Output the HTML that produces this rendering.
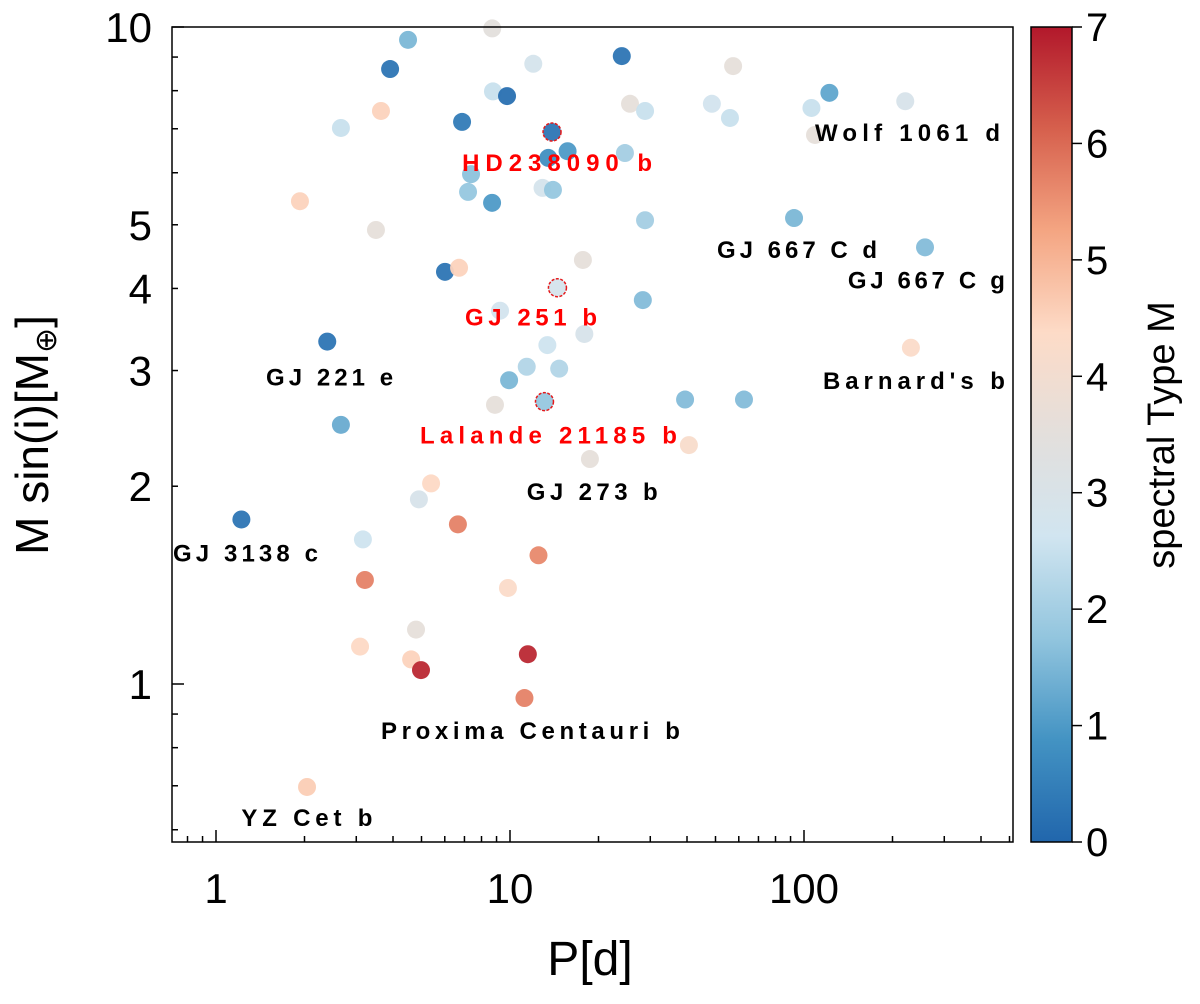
<!DOCTYPE html>
<html><head><meta charset="utf-8"><style>
body{margin:0;background:#fff}
svg text{font-family:"Liberation Sans","DejaVu Sans",sans-serif}
</style></head><body>
<svg id="chart" width="1200" height="999" viewBox="0 0 1200 999" xmlns="http://www.w3.org/2000/svg">
<defs><linearGradient id="cbgrad" x1="0" y1="1" x2="0" y2="0"></linearGradient></defs>
<g id="marks"></g>
<g id="axes"></g>
</svg>
<script>
const periods=[4.50,8.7,3.91,12.0,24.0,57.4,8.75,9.77,25.6,28.8,48.6,56.0,106,122,221,109,2.66,3.64,6.87,13.9,15.7,13.5,24.6,7.37,7.20,12.9,14.0,8.69,1.93,3.50,28.8,92.5,258,17.7,6.01,6.71,14.5,9.25,28.3,2.39,17.9,13.4,11.4,14.7,9.93,231,8.89,13.1,39.4,62.5,2.66,40.6,18.7,5.39,4.90,1.22,6.65,3.16,12.5,3.21,9.84,4.79,3.09,4.61,4.98,11.5,11.2,2.04];
const masses=[9.56,9.95,8.63,8.79,9.03,8.72,7.98,7.85,7.64,7.45,7.64,7.27,7.53,7.94,7.71,6.85,7.02,7.45,7.17,6.92,6.47,6.32,6.43,5.97,5.61,5.69,5.65,5.40,5.43,4.91,5.08,5.12,4.62,4.42,4.24,4.30,4.01,3.70,3.84,3.32,3.41,3.28,3.04,3.02,2.90,3.25,2.66,2.69,2.71,2.71,2.48,2.31,2.20,2.02,1.91,1.78,1.75,1.66,1.57,1.44,1.40,1.21,1.14,1.09,1.05,1.11,0.952,0.697];
const spTypes=[1.5,3.5,0.3,2.8,0.3,3.6,2.5,0.2,3.6,2.5,2.7,2.5,2.5,1.2,2.9,3.6,2.5,4.5,0.4,0.3,1.0,0.8,2.0,1.7,1.8,2.8,1.8,1.0,4.5,3.6,2.0,1.5,1.6,3.6,0.3,4.5,2.8,2.7,1.6,0.3,2.9,2.6,2.2,2.2,1.5,4.3,3.6,1.8,1.6,1.6,1.3,4.2,3.6,4.4,2.9,0.3,5.7,2.6,5.6,5.7,4.3,3.6,4.4,4.5,6.8,6.8,5.7,4.6];
const highlighted=[19,36,47];
const labelNames=["Wolf 1061 d","HD238090 b","GJ 667 C d","GJ 667 C g","GJ 251 b","GJ 221 e","Barnard's  b","Lalande 21185 b","GJ 273 b","GJ 3138 c","Proxima Centauri b","YZ Cet b"];
const labelP=[109,6.87,50.6,141,7.03,1.48,116,4.94,11.4,0.714,3.64,1.22];
const labelM=[6.90,6.21,4.58,4.11,3.61,2.93,2.89,2.39,1.96,1.58,0.848,0.625];
const labelRed=[0,1,0,0,1,0,0,1,0,0,0,0];
const labelW=[185,190,160,157,132,127,182,257,131,145,299,131];
const xTicks=[1,10,100];
const yTicks=[1,2,3,4,5,10];
const cbTicks=[0,1,2,3,4,5,6,7];

const NS="http://www.w3.org/2000/svg";
const L=172,R=1013,T=27,B=842;
const X=p=>216+294*Math.log10(p);
const Y=m=>684-657*Math.log10(m);
const stops=["#2166ac","#4393c3","#92c5de","#d1e5f0","#e3dfdc","#fddbc7","#f4a582","#d6604d","#b2182b"];
function hex(c){return [1,3,5].map(i=>parseInt(c.substr(i,2),16));}
function cmap(v){let t=Math.max(0,Math.min(7,v))/7*(stops.length-1);let i=Math.min(Math.floor(t),stops.length-2),f=t-i;
 const a=hex(stops[i]),b=hex(stops[i+1]);return "rgb("+a.map((x,k)=>Math.round(x+(b[k]-x)*f)).join(",")+")";}
function mk(tag,attrs,parent){const e=document.createElementNS(NS,tag);for(const k in attrs)e.setAttribute(k,attrs[k]);parent.appendChild(e);return e;}
const marks=document.getElementById('marks'),axes=document.getElementById('axes');

periods.forEach((p,i)=>{
 const c=mk('circle',{cx:X(p),cy:Y(masses[i]),r:9,fill:cmap(spTypes[i]),'fill-opacity':0.95},marks);
 if(highlighted.includes(i)){c.setAttribute('stroke','#e41a1c');c.setAttribute('stroke-width','1.5');c.setAttribute('stroke-dasharray','3 1.5');}
 
 
});
labelNames.forEach((n,i)=>{
 const t=mk('text',{x:X(labelP[i]),y:Y(labelM[i])+8,'text-anchor':'start','font-size':24,'font-weight':'bold',textLength:labelW[i],lengthAdjust:'spacing',fill:labelRed[i]?'#f00':'#000'},marks);
 t.textContent=n;
 
 
});
const fr=mk('rect',{x:L,y:T,width:R-L,height:B-T,fill:'none',stroke:'#000','stroke-width':1.5},axes);


for(let d=-1;d<=2;d++)for(let k=1;k<10;k++){const v=k*Math.pow(10,d);const x=X(v);if(x<L||x>R)continue;
 const len=k==1?12:6;mk('line',{x1:x,x2:x,y1:B,y2:B-len,stroke:'#000','stroke-width':1.5},axes);}
xTicks.forEach(v=>{const t=mk('text',{x:X(v),y:903,'text-anchor':'middle','font-size':42},axes);t.textContent=v;
 
 });
for(let d=-1;d<=1;d++)for(let k=1;k<10;k++){const v=k*Math.pow(10,d);const y=Y(v);if(y<T-1||y>B)continue;
 const len=k==1?12:6;mk('line',{x1:L,x2:L+len,y1:y,y2:y,stroke:'#000','stroke-width':1.5},axes);}
yTicks.forEach(v=>{const t=mk('text',{x:152,y:Y(v)+15,'text-anchor':'end','font-size':42},axes);t.textContent=v;
 
 });
const xt=mk('text',{x:590,y:975,'text-anchor':'middle','font-size':48},axes);xt.textContent="P[d]";


const yt=mk('text',{x:0,y:0,'text-anchor':'middle','font-size':46,transform:'translate(48,435) rotate(-90)'},axes);
yt.innerHTML='M sin(i)[M<tspan font-size="30" dy="8">⊕</tspan><tspan dy="-8">]</tspan>';


const g=document.getElementById('cbgrad');
stops.forEach((s,i)=>mk('stop',{offset:i/(stops.length-1),'stop-color':s},g));
const cb=mk('rect',{x:1031,y:T,width:41,height:B-T,fill:'url(#cbgrad)',stroke:'#000','stroke-width':1.5},axes);


const CY=v=>B-(B-T)*v/7;
cbTicks.forEach(v=>{mk('line',{x1:1072,x2:1082,y1:CY(v),y2:CY(v),stroke:'#000','stroke-width':1.5},axes);
 const t=mk('text',{x:1086,y:CY(v)+14,'font-size':40},axes);t.textContent=v;
 
 });
const ct=mk('text',{x:0,y:0,'text-anchor':'middle','font-size':38,transform:'translate(1174,435) rotate(-90)'},axes);
ct.textContent="spectral Type M";


</script>
</body></html>
